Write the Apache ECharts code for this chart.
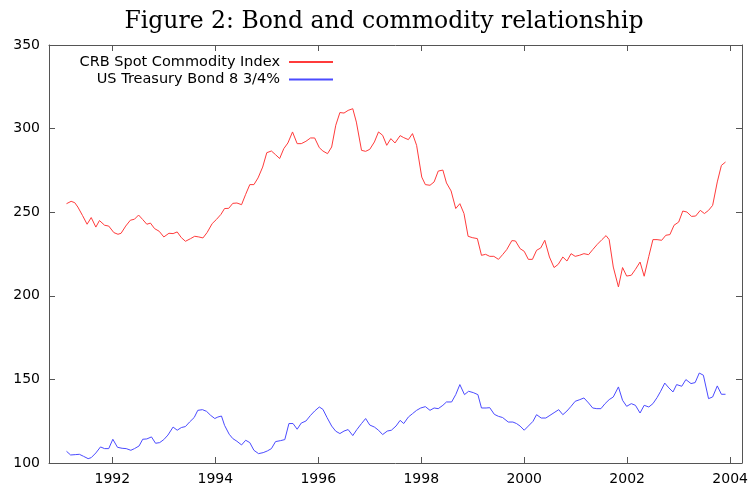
<!DOCTYPE html>
<html>
<head>
<meta charset="utf-8">
<script src="https://cdn.jsdelivr.net/npm/echarts@6.0.0/dist/echarts.min.js"></script>
<style>
  html, body { margin: 0; padding: 0; background: #fff; }
  #main { width: 752px; height: 490px; }
</style>
</head>
<body>
<div id="main"></div>
<script>
// [year, value] readings, roughly monthly
const crbSpot = [
  [1991.11,255.1],[1991.20,256.5],[1991.27,255.7],[1991.33,253.1],[1991.42,248.1],[1991.51,242.8],[1991.59,246.8],[1991.68,241.1],
  [1991.75,245.0],[1991.85,242.2],[1991.93,241.7],[1992.03,237.8],[1992.11,236.8],[1992.17,237.4],[1992.26,241.7],[1992.35,245.2],
  [1992.43,245.8],[1992.51,248.3],[1992.59,245.6],[1992.67,242.8],[1992.74,243.5],[1992.82,240.2],[1992.91,238.6],[1993.00,235.2],
  [1993.10,237.4],[1993.18,237.2],[1993.26,238.2],[1993.34,234.8],[1993.42,232.6],[1993.52,234.2],[1993.60,235.6],[1993.68,235.2],
  [1993.76,234.6],[1993.84,237.8],[1993.94,243.2],[1994.02,245.6],[1994.11,248.7],[1994.18,252.2],[1994.26,252.3],[1994.34,255.3],
  [1994.42,255.5],[1994.51,254.5],[1994.59,260.7],[1994.67,266.5],[1994.75,266.5],[1994.83,270.5],[1994.92,277.0],[1995.00,285.6],
  [1995.09,286.6],[1995.17,284.4],[1995.25,282.1],[1995.33,288.0],[1995.41,291.4],[1995.50,298.0],[1995.59,291.0],[1995.67,291.0],
  [1995.76,292.4],[1995.85,294.4],[1995.93,294.4],[1996.02,288.6],[1996.09,286.6],[1996.18,285.0],[1996.26,289.0],[1996.34,302.0],
  [1996.42,309.6],[1996.50,309.3],[1996.58,310.9],[1996.67,311.9],[1996.74,303.9],[1996.84,287.0],[1996.92,286.4],[1997.00,287.6],
  [1997.09,292.0],[1997.17,298.0],[1997.25,296.0],[1997.33,290.0],[1997.41,294.0],[1997.49,291.4],[1997.59,295.8],[1997.66,294.6],
  [1997.75,293.4],[1997.83,297.0],[1997.91,290.0],[1998.01,271.0],[1998.08,266.5],[1998.17,266.1],[1998.25,268.1],[1998.33,274.6],
  [1998.42,275.2],[1998.49,267.5],[1998.58,262.7],[1998.67,252.2],[1998.75,255.1],[1998.83,249.2],[1998.91,235.6],[1998.99,234.8],
  [1999.09,234.2],[1999.17,224.2],[1999.25,224.8],[1999.33,223.6],[1999.41,223.6],[1999.50,221.8],[1999.58,224.6],[1999.66,227.6],
  [1999.76,233.0],[1999.83,232.8],[1999.92,228.2],[2000.00,226.6],[2000.08,221.8],[2000.16,221.8],[2000.24,227.2],[2000.32,228.6],
  [2000.40,233.2],[2000.49,223.2],[2000.58,216.9],[2000.66,218.8],[2000.75,223.2],[2000.83,220.8],[2000.91,225.2],[2000.99,223.6],
  [2001.07,224.2],[2001.16,225.2],[2001.25,224.6],[2001.33,227.6],[2001.42,230.8],[2001.51,233.6],[2001.59,236.0],[2001.65,233.6],
  [2001.73,217.2],[2001.83,205.3],[2001.91,216.9],[2001.99,211.8],[2002.08,212.3],[2002.16,215.8],[2002.25,220.2],[2002.33,211.7],
  [2002.42,223.6],[2002.50,233.6],[2002.58,233.6],[2002.67,233.2],[2002.75,236.2],[2002.83,236.6],[2002.91,242.2],[2003.00,244.1],
  [2003.08,250.7],[2003.16,250.1],[2003.25,247.5],[2003.33,247.7],[2003.42,251.1],[2003.50,249.2],[2003.58,251.1],[2003.66,254.1],
  [2003.75,268.1],[2003.83,278.0],[2003.91,280.0]
]

const tBond = [
  [1991.11,107.0],[1991.19,104.8],[1991.28,105.0],[1991.36,105.2],[1991.44,104.0],[1991.53,102.6],[1991.59,103.2],[1991.68,106.0],
  [1991.77,109.6],[1991.85,108.6],[1991.93,108.6],[1992.01,114.2],[1992.10,109.4],[1992.19,108.8],[1992.27,108.6],[1992.36,107.6],
  [1992.43,108.6],[1992.52,110.2],[1992.59,114.2],[1992.67,114.4],[1992.76,115.6],[1992.84,111.8],[1992.92,112.2],[1993.00,114.0],
  [1993.08,116.7],[1993.18,121.5],[1993.26,119.6],[1993.34,121.2],[1993.42,121.8],[1993.50,124.5],[1993.59,127.2],[1993.66,131.5],
  [1993.75,131.9],[1993.83,130.9],[1993.91,128.5],[1993.99,126.6],[1994.05,127.5],[1994.12,128.1],[1994.18,122.5],[1994.27,117.2],
  [1994.34,114.6],[1994.42,113.0],[1994.51,110.8],[1994.59,113.6],[1994.67,112.2],[1994.75,107.6],[1994.84,105.6],[1994.93,106.2],
  [1995.01,107.2],[1995.09,108.6],[1995.17,112.8],[1995.27,113.4],[1995.35,114.0],[1995.43,123.6],[1995.51,123.6],[1995.59,120.2],
  [1995.67,123.9],[1995.76,125.1],[1995.85,128.5],[1995.93,131.1],[1996.02,133.5],[1996.09,132.1],[1996.17,127.2],[1996.26,122.1],
  [1996.34,119.0],[1996.42,117.6],[1996.50,119.1],[1996.58,120.0],[1996.67,116.4],[1996.75,120.0],[1996.84,123.6],[1996.92,126.6],
  [1997.00,122.7],[1997.09,121.5],[1997.17,119.6],[1997.25,117.0],[1997.34,119.1],[1997.42,119.6],[1997.51,122.1],[1997.59,125.5],
  [1997.66,123.6],[1997.75,127.5],[1997.83,129.5],[1997.91,131.5],[1997.99,132.9],[1998.08,133.7],[1998.17,131.5],[1998.25,132.9],
  [1998.33,132.5],[1998.42,134.5],[1998.49,136.5],[1998.59,136.5],[1998.67,140.9],[1998.75,146.9],[1998.84,140.9],[1998.92,142.9],
  [1999.01,142.1],[1999.10,140.9],[1999.17,132.9],[1999.26,132.9],[1999.33,133.1],[1999.42,129.1],[1999.50,127.9],[1999.58,127.2],
  [1999.69,124.5],[1999.78,124.5],[1999.85,123.6],[1999.92,122.1],[2000.00,119.6],[2000.08,122.1],[2000.17,124.9],[2000.24,128.9],
  [2000.33,126.9],[2000.42,126.9],[2000.50,128.5],[2000.58,130.1],[2000.67,131.9],[2000.75,128.9],[2000.83,131.1],[2000.91,133.9],
  [2000.99,136.9],[2001.08,137.9],[2001.16,138.9],[2001.25,135.9],[2001.33,132.9],[2001.41,132.5],[2001.49,132.5],[2001.57,135.5],
  [2001.65,137.9],[2001.73,139.5],[2001.83,145.5],[2001.91,137.5],[2001.99,133.9],[2002.08,135.5],[2002.16,134.5],[2002.25,129.9],
  [2002.33,134.5],[2002.42,133.5],[2002.50,135.5],[2002.58,139.1],[2002.65,142.9],[2002.73,147.8],[2002.81,144.9],[2002.89,142.5],
  [2002.96,146.9],[2003.06,145.9],[2003.14,149.9],[2003.24,147.5],[2003.32,148.1],[2003.40,153.8],[2003.48,152.5],[2003.58,138.5],
  [2003.66,139.5],[2003.75,146.1],[2003.83,141.1],[2003.91,141.1]
]

const yearTicks = [1992, 1994, 1996, 1998, 2000, 2002, 2004]
const seriesNames = ['CRB Spot Commodity Index', 'US Treasury Bond 8 3/4%']

const font = 'DejaVu Sans'
const axisGray = '#555'

const chart = echarts.init(document.getElementById('main'), null, { renderer: 'canvas' })

const xBase = {
  type: 'value',
  min: 1990.77,
  max: 2004.23,
  axisLine: { show: true, lineStyle: { color: axisGray, width: 1 } },
  axisTick: { show: true, inside: true, length: 6, customValues: yearTicks, lineStyle: { color: axisGray } },
  splitLine: { show: false }
}
const yBase = {
  type: 'value',
  min: 100,
  max: 350,
  interval: 50,
  axisLine: { show: true, lineStyle: { color: axisGray, width: 1 } },
  axisTick: { show: true, inside: true, length: 6, lineStyle: { color: axisGray } },
  splitLine: { show: false }
}

// gnuplot-style key: text right-aligned, line sample on the right
const legendBase = {
  right: 418,
  align: 'right',
  padding: 0,
  itemWidth: 44,
  itemHeight: 18,
  selectedMode: false,
  itemStyle: { opacity: 0 },
  textStyle: { fontFamily: font, fontSize: 14.5, color: '#000', padding: [0, 4, 0, 0] }
}

const option = {
  animation: false,
  backgroundColor: '#fff',
  title: {
    text: 'Figure 2: Bond and commodity relationship',
    left: 379,
    textAlign: 'center',
    top: 5,
    textStyle: { fontFamily: 'DejaVu Serif', fontWeight: 'normal', fontSize: 23.5, color: '#000' }
  },
  legend: [
    Object.assign({}, legendBase, { data: [seriesNames[0]], top: 54.5 }),
    Object.assign({}, legendBase, { data: [seriesNames[1]], top: 72 })
  ],
  grid: { left: 49, right: 10, top: 45, bottom: 27, show: false },
  xAxis: [
    Object.assign({}, xBase, {
      position: 'bottom',
      axisLabel: {
        customValues: yearTicks,
        color: '#000', fontFamily: font, fontSize: 14, margin: 9,
        formatter: v => String(v)
      }
    }),
    Object.assign({}, xBase, { position: 'top', axisLabel: { show: false } })
  ],
  yAxis: [
    Object.assign({}, yBase, {
      position: 'left',
      axisLabel: { color: '#000', fontFamily: font, fontSize: 14, margin: 9 }
    }),
    Object.assign({}, yBase, { position: 'right', axisLabel: { show: false } })
  ],
  series: [
    {
      name: seriesNames[0],
      type: 'line',
      xAxisIndex: 0,
      yAxisIndex: 0,
      data: crbSpot,
      symbol: 'none',
      lineStyle: { color: '#ff3b3b', width: 1 },
      itemStyle: { color: '#ff3b3b' }
    },
    {
      name: seriesNames[1],
      type: 'line',
      xAxisIndex: 0,
      yAxisIndex: 0,
      data: tBond,
      symbol: 'none',
      lineStyle: { color: '#4b4bff', width: 1 },
      itemStyle: { color: '#4b4bff' }
    }
  ]
}

chart.setOption(option)
</script>
</body>
</html>
